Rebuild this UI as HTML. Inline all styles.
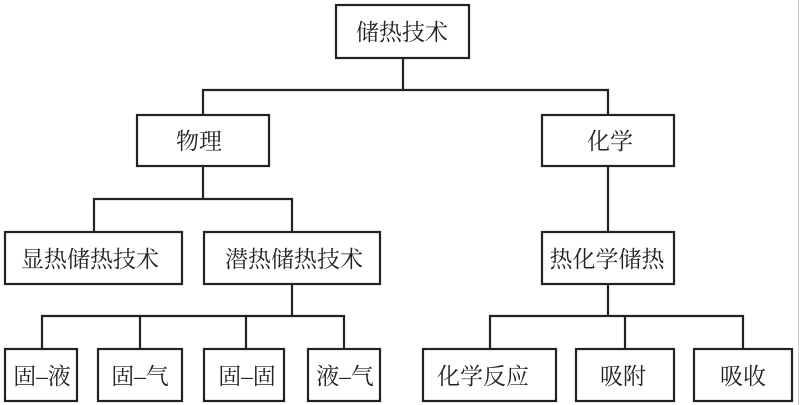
<!DOCTYPE html>
<html><head><meta charset="utf-8"><style>
html,body{margin:0;padding:0;background:#fff;}
</style></head><body>
<svg width="800" height="405" viewBox="0 0 800 405" xmlns="http://www.w3.org/2000/svg" style="display:block">
<g fill="none" stroke="#222" stroke-width="2.2">
<rect x="336" y="5" width="133" height="53"/>
<rect x="137" y="115" width="132" height="51"/>
<rect x="542" y="115" width="132" height="51"/>
<rect x="5" y="232" width="177" height="52"/>
<rect x="204" y="232" width="176" height="52"/>
<rect x="542" y="232" width="132" height="52"/>
<rect x="5" y="349" width="72" height="52"/>
<rect x="98" y="349" width="84" height="52"/>
<rect x="204" y="349" width="80" height="52"/>
<rect x="308" y="349" width="72" height="52"/>
<rect x="423" y="349" width="133" height="52"/>
<rect x="576" y="349" width="98" height="52"/>
<rect x="694" y="349" width="98" height="52"/>
<path d="M403 58V90M203 115V90H608V115"/>
<path d="M203 166V199M94 232V199H292V232"/>
<path d="M292 284V316M42 349V316H344V349M140 316V349M246 316V349"/>
<path d="M608 166V232"/>
<path d="M608 284V316M490 349V316H743V349M625 316V349"/>
</g>
<line x1="798.5" y1="0" x2="798.5" y2="405" stroke="#ccc" stroke-width="1"/>
<g font-family="'Liberation Serif','Noto Serif CJK SC',serif" font-size="23" fill="#222" text-anchor="middle">
<text x="402" y="40">储热技术</text>
<text x="199" y="149">物理</text>
<text x="610" y="149">化学</text>
<text x="90" y="267">显热储热技术</text>
<text x="294" y="267">潜热储热技术</text>
<text x="607" y="267">热化学储热</text>
<text x="42" y="384">固–液</text>
<text x="140" y="384">固–气</text>
<text x="247" y="384">固–固</text>
<text x="345" y="384">液–气</text>
<text x="483" y="384">化学反应</text>
<text x="623" y="384">吸附</text>
<text x="743" y="384">吸收</text>
</g>
</svg>
</body></html>
